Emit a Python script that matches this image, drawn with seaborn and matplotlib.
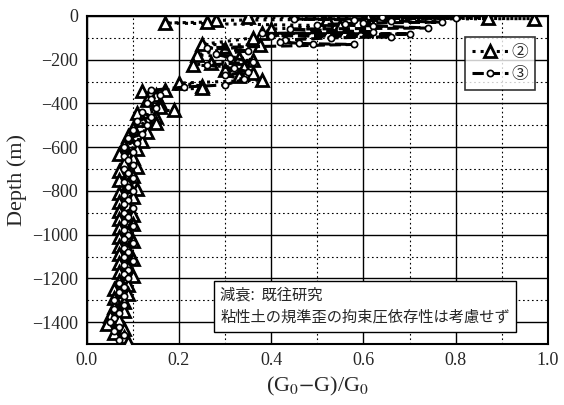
import numpy as np
import pandas as pd
import seaborn as sns
import matplotlib.pyplot as plt
from matplotlib.ticker import MultipleLocator, FormatStrFormatter

# series 2 (triangles, dotted line)
s2_depth = [-5, -8, -10, -12, -15, -20, -28, -32, -45, -60, -80, -100, -130, -133, -150,
            -178, -190, -201, -215, -224, -235, -247, -260, -275, -293, -307, -320, -330,
            -338, -345, -360, -384, -400, -416, -430, -444, -460, -475, -490, -510, -530,
            -550, -570, -590, -610, -630, -650, -670, -690, -710, -730, -750, -770, -790,
            -810, -830, -850, -870, -890, -910, -930, -950, -970, -990, -1010, -1030,
            -1050, -1070, -1090, -1110, -1130, -1150, -1170, -1190, -1210, -1230, -1250,
            -1270, -1290, -1310, -1330, -1350, -1370, -1390, -1410, -1430, -1450, -1470,
            -1490]
s2_value = [0.35, 0.87, 0.61, 0.97, 0.52, 0.28, 0.26, 0.17, 0.55, 0.40, 0.38, 0.36, 0.25,
            0.376, 0.30, 0.24, 0.33, 0.36, 0.27, 0.23, 0.34, 0.30, 0.36, 0.33, 0.38, 0.20,
            0.25, 0.25, 0.17, 0.12, 0.15, 0.13, 0.16, 0.16, 0.19, 0.11, 0.15, 0.12, 0.15,
            0.10, 0.13, 0.09, 0.12, 0.08, 0.11, 0.07, 0.10, 0.08, 0.11, 0.07, 0.10, 0.07,
            0.09, 0.11, 0.07, 0.10, 0.07, 0.09, 0.07, 0.10, 0.07, 0.10, 0.07, 0.09, 0.07,
            0.10, 0.07, 0.09, 0.07, 0.10, 0.07, 0.09, 0.07, 0.10, 0.07, 0.09, 0.06, 0.09,
            0.06, 0.08, 0.06, 0.08, 0.05, 0.07, 0.045, 0.08, 0.06, 0.08, 0.09]

# series 3 (circles, dashed line)
s3_depth = [-3, -10, -14, -18, -22, -28, -32, -35, -40, -45, -55, -60, -73, -80, -82, -90,
            -95, -100, -110, -118, -125, -127, -130, -145, -160, -175, -190, -210, -225,
            -240, -255, -270, -290, -315, -325, -340, -360, -380, -400, -420, -440, -460,
            -480, -500, -520, -540, -560, -580, -600, -620, -640, -660, -680, -700, -720,
            -740, -760, -780, -800, -820, -840, -860, -880, -900, -920, -940, -960, -980,
            -1000, -1020, -1040, -1060, -1080, -1100, -1120, -1140, -1160, -1180, -1200,
            -1220, -1240, -1260, -1280, -1300, -1320, -1340, -1360, -1380, -1400, -1420,
            -1440, -1460, -1480]
s3_value = [0.64, 0.80, 0.45, 0.58, 0.66, 0.77, 0.60, 0.56, 0.50, 0.62, 0.74, 0.44, 0.62,
            0.38, 0.70, 0.40, 0.66, 0.53, 0.43, 0.42, 0.46, 0.49, 0.58, 0.26, 0.35, 0.28,
            0.31, 0.36, 0.26, 0.32, 0.35, 0.30, 0.34, 0.30, 0.21, 0.14, 0.16, 0.14, 0.13,
            0.15, 0.12, 0.14, 0.11, 0.13, 0.10, 0.12, 0.09, 0.11, 0.08, 0.10, 0.08, 0.09,
            0.10, 0.08, 0.09, 0.10, 0.08, 0.09, 0.10, 0.08, 0.09, 0.08, 0.10, 0.08, 0.09,
            0.08, 0.10, 0.08, 0.09, 0.08, 0.10, 0.08, 0.09, 0.08, 0.10, 0.08, 0.09, 0.08,
            0.09, 0.07, 0.08, 0.07, 0.08, 0.06, 0.08, 0.06, 0.07, 0.06, 0.05, 0.07, 0.06,
            0.08, 0.07]

note = "減衰:  既往研究\n粘性土の規準歪の拘束圧依存性は考慮せず"

sns.set_style('white')
plt.rcParams['font.family'] = ['Liberation Serif', 'DejaVu Serif']
plt.rcParams['mathtext.fontset'] = 'stix'

fig = plt.figure(figsize=(5.64, 4.05), dpi=100)
ax = fig.add_axes([0.1537, 0.1506, 0.8179, 0.8099])

df2 = pd.DataFrame({'depth': s2_depth, 'ratio': s2_value})
df3 = pd.DataFrame({'depth': s3_depth, 'ratio': s3_value})

sns.lineplot(data=df2, x='ratio', y='depth', sort=False, estimator=None, ax=ax,
             color='black', linestyle=':', linewidth=2.2, marker='^', markersize=8,
             markerfacecolor='white', markeredgecolor='black', markeredgewidth=2.0,
             label='②', zorder=3)
sns.lineplot(data=df3, x='ratio', y='depth', sort=False, estimator=None, ax=ax,
             color='black', linestyle='--', linewidth=2.2, marker='o', markersize=4.5,
             markerfacecolor='white', markeredgecolor='black', markeredgewidth=1.2,
             label='③', zorder=4)

ax.set_xlim(0, 1.0)
ax.set_ylim(-1500, 0)
ax.xaxis.set_major_locator(MultipleLocator(0.2))
ax.xaxis.set_minor_locator(MultipleLocator(0.1))
ax.yaxis.set_major_locator(MultipleLocator(200))
ax.yaxis.set_minor_locator(MultipleLocator(100))
ax.xaxis.set_major_formatter(FormatStrFormatter('%.1f'))
ax.grid(which='major', color='black', linestyle='-', linewidth=1.0)
ax.grid(which='minor', color='black', linestyle=(0, (1.5, 2.5)), linewidth=0.8)
ax.set_axisbelow(True)
ax.tick_params(which='both', direction='in', labelsize=13, length=0, pad=6)
for s in ax.spines.values():
    s.set_linewidth(1.5)
    s.set_color('black')

ax.set_xlabel(r'(G$_0$$-$G)/G$_0$', fontsize=16, labelpad=4)
ax.set_ylabel('Depth (m)', fontsize=16, labelpad=4)

leg = ax.legend(loc='upper right', bbox_to_anchor=(0.99, 0.96), frameon=True,
                fancybox=False, edgecolor='black', handlelength=2.2, handletextpad=0.2,
                borderpad=0.4, labelspacing=0.3,
                prop={'family': ['Noto Sans CJK JP', 'DejaVu Sans'], 'size': 12})
leg.get_frame().set_linewidth(1.2)

ax.text(0.29, -1328, note, fontsize=11, family=['Noto Sans CJK JP', 'DejaVu Sans'],
        va='center', ha='left', linespacing=1.4, zorder=6,
        bbox=dict(boxstyle='square,pad=0.4', facecolor='white', edgecolor='black',
                  linewidth=1.0))

fig.savefig('out.png', dpi=100)
